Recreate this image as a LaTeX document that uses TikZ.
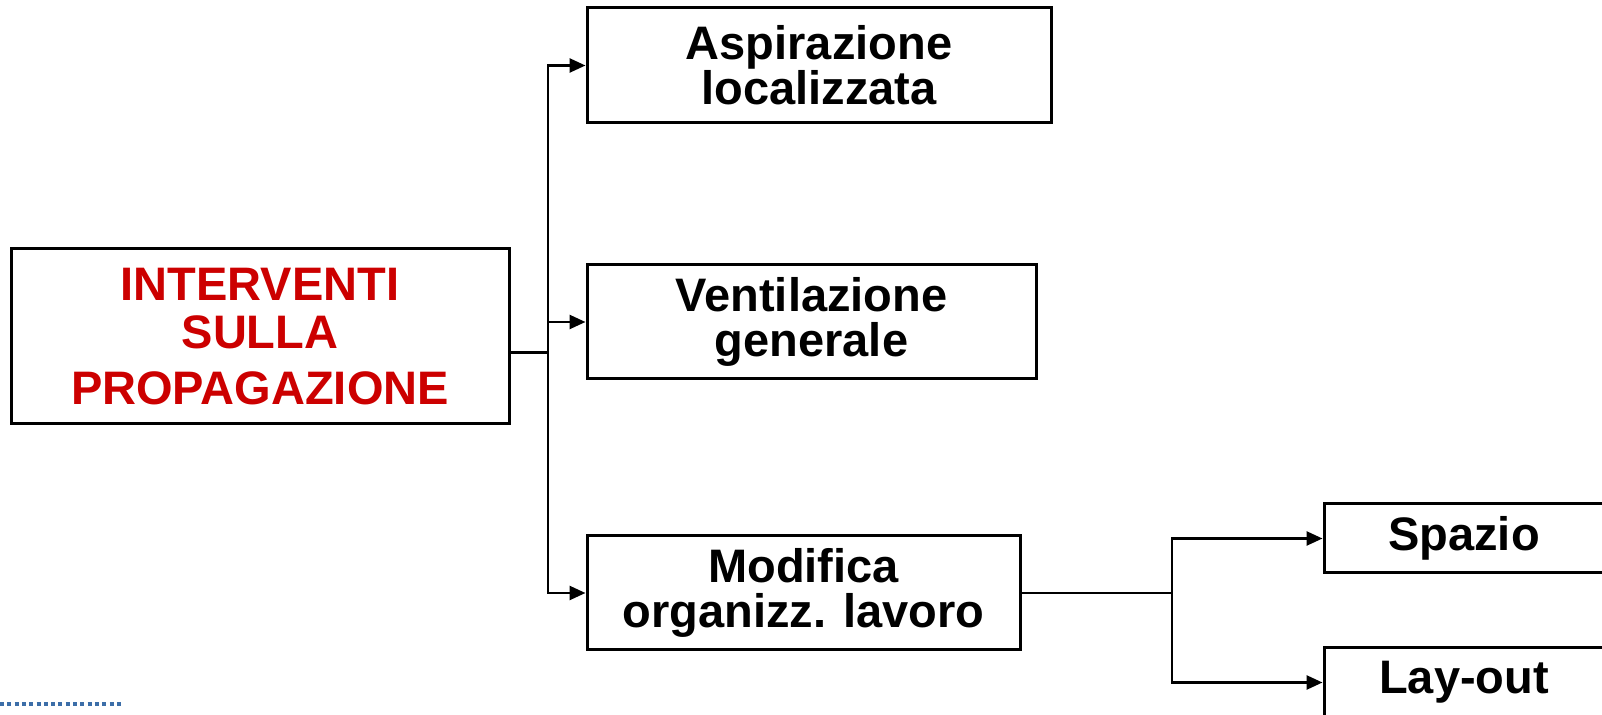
\documentclass[tikz,border=0pt]{standalone}
\usepackage{fontspec}
\setmainfont{Liberation Sans}
\usetikzlibrary{arrows.meta}
\definecolor{darkred}{HTML}{CC0000}
\definecolor{dotblue}{HTML}{3C6EA8}

\begin{document}
\begin{tikzpicture}[x=0.5pt,y=-0.5pt,
  box/.style={draw,line width=1.5pt,inner sep=0pt,align=center,font=\fontsize{23.5}{22.5}\selectfont\bfseries},
  arr/.style={-{Triangle[length=8pt,width=7pt]},line width=1.3pt},
  link/.style={line width=1.3pt}]
\useasboundingbox (0,0) rectangle (1602,715);

\node[box,minimum width=249pt,minimum height=87.5pt,text=darkred,font=\fontsize{23.5}{24}\selectfont\bfseries] (main) at (260,336.5) {INTERVENTI\\SULLA\\[4pt]PROPAGAZIONE};
\node[box,minimum width=232pt,minimum height=57.5pt] (asp) at (819,65.5) {Aspirazione\\localizzata};
\node[box,minimum width=224.5pt,minimum height=57pt] (vent) at (811.5,322) {Ventilazione\\generale};
\node[box,minimum width=216.5pt,minimum height=57pt] (mod) at (803.5,593) {Modifica\\organizz. lavoro};
\node[box,minimum width=140pt,minimum height=34.5pt] (spazio) at (1464,538.5) {Spazio};
\node[box,minimum width=140pt,minimum height=34.5pt] (layout) at (1464,682.5) {Lay-out};

\coordinate (j1) at (548,352.5);
\coordinate (j2) at (1172,593);

\draw[link] (main.east |- j1) -- (j1);
\draw[arr] (j1) |- (asp.west);
\draw[arr] (j1) |- (vent.west);
\draw[arr] (j1) |- (mod.west);

\draw[link] (mod.east) -- (j2);
\draw[arr] (j2) |- (spazio.west);
\draw[arr] (j2) |- (layout.west);

% dotted strip, bottom left
\draw[dotblue,line width=2pt,dash pattern=on 2pt off 1.65pt] (0,704) -- (123,704);
\end{tikzpicture}
\end{document}
